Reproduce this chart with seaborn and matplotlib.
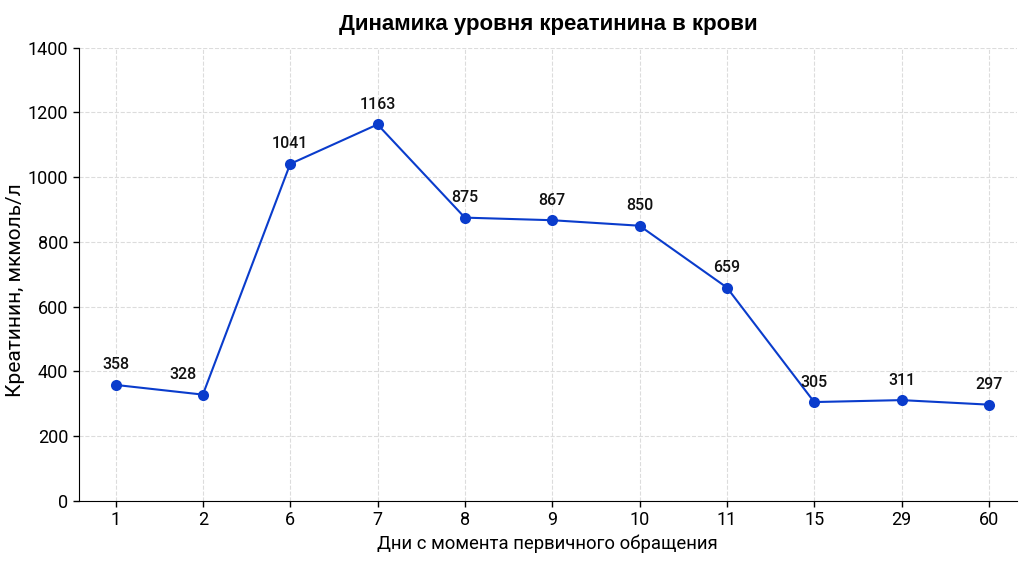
import matplotlib
matplotlib.use('Agg')
import matplotlib.pyplot as plt
import seaborn as sns
import pandas as pd

# Creatinine values
days = ['1', '2', '6', '7', '8', '9', '10', '11', '15', '29', '60']
creatinine = [358, 328, 1041, 1163, 875, 867, 850, 659, 305, 311, 297]

df = pd.DataFrame({'day': days, 'value': creatinine})

sns.set_style('ticks')
plt.rcParams['font.family'] = ['Roboto', 'DejaVu Sans']
plt.rcParams['text.color'] = 'black'
plt.rcParams['axes.labelcolor'] = 'black'
plt.rcParams['xtick.color'] = 'black'
plt.rcParams['ytick.color'] = 'black'
plt.rcParams['axes.edgecolor'] = 'black'

line_color = '#0a3ccc'

fig, ax = plt.subplots(figsize=(10.24, 5.62), dpi=100)
fig.subplots_adjust(left=0.077, right=0.993, top=0.915, bottom=0.109)

sns.lineplot(data=df, x='day', y='value', sort=False, marker='o',
             markersize=8, markeredgewidth=0, color=line_color,
             linewidth=1.5, ax=ax)

# value labels above the points (328 nudged left so it clears the line)
nudge = {1: -14}
for i, v in enumerate(creatinine):
    ax.annotate(str(v), (i, v), xytext=(nudge.get(i, 0), 9),
                textcoords='offset points', ha='center', va='bottom',
                fontsize=11.5, fontweight='medium', color='#111111')

ax.set_ylim(0, 1400)
ax.set_xlim(-0.42, 10.32)
ax.set_yticks(range(0, 1401, 200))
ax.grid(True, linestyle='--', color='#dcdcdc', linewidth=0.8)
ax.set_axisbelow(True)
sns.despine(ax=ax)

ax.tick_params(labelsize=13, length=4, width=1)
ax.set_title('Динамика уровня креатинина в крови', fontsize=16,
             fontweight='bold', pad=13, color='black',
             family=['Liberation Sans', 'DejaVu Sans'])
ax.set_xlabel('Дни с момента первичного обращения', fontsize=13.3, labelpad=4)
ax.set_ylabel('Креатинин, мкмоль/л', fontsize=15)
ax.yaxis.set_label_coords(-0.057, 0.466)

plt.savefig('out.png', dpi=100)
